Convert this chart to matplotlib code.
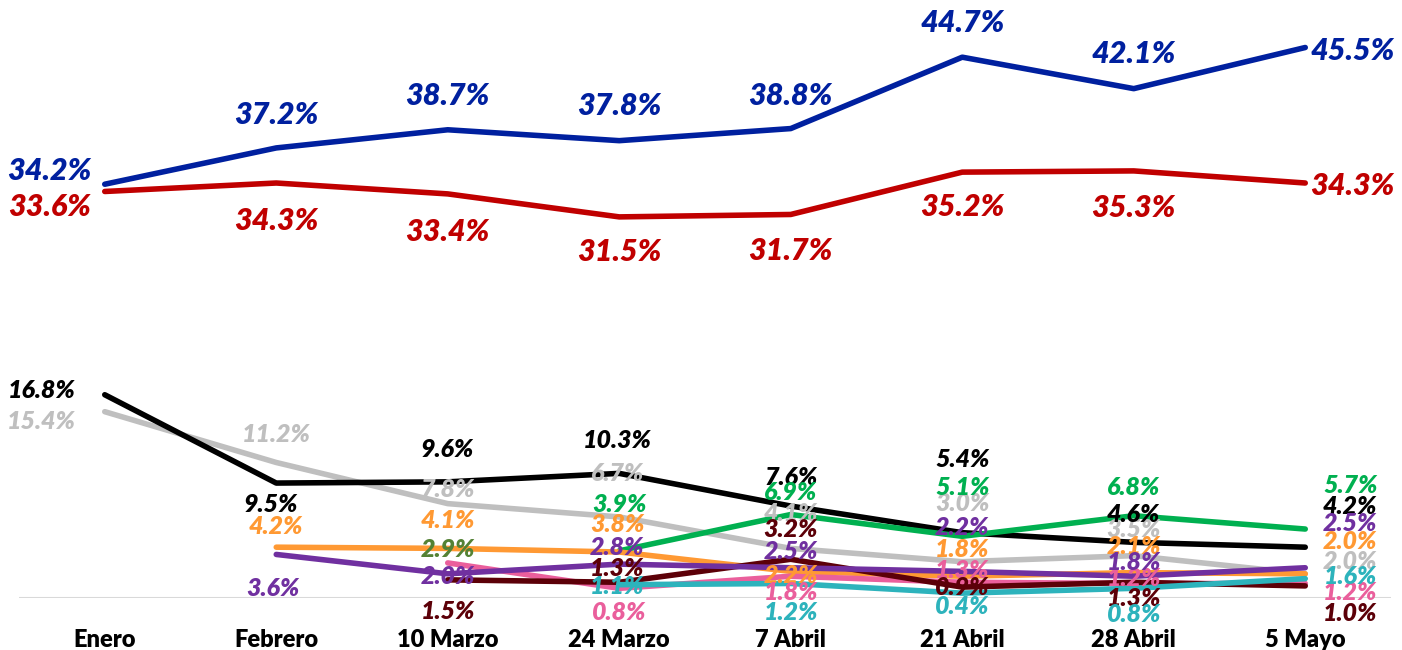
import numpy as np
import matplotlib
matplotlib.use("Agg")
from matplotlib import pyplot as plt

plt.rcParams['font.family'] = ['Lato', 'DejaVu Sans']

# categories
fechas = ["Enero", "Febrero", "10 Marzo", "24 Marzo", "7 Abril",
          "21 Abril", "28 Abril", "5 Mayo"]

# series values (None = no data)
azul = [34.2, 37.2, 38.7, 37.8, 38.8, 44.7, 42.1, 45.5]
rojo = [33.6, 34.3, 33.4, 31.5, 31.7, 35.2, 35.3, 34.3]
negro = [16.8, 9.5, 9.6, 10.3, 7.6, 5.4, 4.6, 4.2]
gris = [15.4, 11.2, 7.8, 6.7, 4.1, 3.0, 3.5, 2.0]
naranja = [None, 4.2, 4.1, 3.8, 2.2, 1.8, 2.1, 2.0]
morado = [None, 3.6, 2.0, 2.8, 2.5, 2.2, 1.8, 2.5]
verde = [None, None, None, 3.9, 6.9, 5.1, 6.8, 5.7]
rosa = [None, None, 2.9, 0.8, 1.8, 1.3, 1.2, 1.2]
guinda = [None, None, 1.5, 1.3, 3.2, 0.9, 1.3, 1.0]
turquesa = [None, None, None, 1.1, 1.2, 0.4, 0.8, 1.6]

# label offsets in pixels (dx, dy up), one per point
off_azul = [(-55, 13), (0, 33), (0, 34), (0, 35), (0, 33), (0, 34), (0, 35), (47, -3)]
off_rojo = [(-55, -16), (0, -38), (0, -38), (0, -35), (0, -37), (0, -35), (0, -37), (47, -3)]
off_negro = [(-63, 4), (-5, -21), (0, 32), (-2, 33), (0, 29), (0, 73), (0, 28), (45, 41)]
off_gris = [(-63, -10), (0, 28), (0, 14), (-2, 43), (0, 35), (0, 58), (0, 26), (45, 12)]
off_naranja = [None, (0, 21), (0, 28), (-2, 28), (0, -4), (0, 27), (0, 26), (45, 32)]
off_morado = [None, (-3, -34), (0, -3), (-2, 17), (0, 16), (0, 44), (0, 14), (45, 44)]
off_verde = [None, None, None, (0, 46), (0, 22), (0, 49), (0, 28), (45, 44)]
off_rosa = [None, None, (0, 13), (0, -24), (0, -16), (0, 12), (0, 5), (45, -9)]
off_guinda = [None, None, (0, -32), (-2, 14), (0, 30), (0, 0), (0, -16), (45, -28)]
off_turquesa = [None, None, None, (-2, -2), (0, -29), (0, -13), (0, -26), (45, 2)]

series = [
    # values, colour, offsets, font size, zorder
    (gris, '#BFBFBF', off_gris, 18, 2),
    (negro, '#000000', off_negro, 18, 3),
    (naranja, '#FF9933', off_naranja, 18, 4),
    (verde, '#00B050', off_verde, 18, 3),
    (rosa, '#EA5F9C', off_rosa, 18, 4),
    (guinda, '#5C0008', off_guinda, 18, 5),
    (morado, '#7030A0', off_morado, 18, 5),
    (turquesa, '#2DB3BC', off_turquesa, 18, 6),
    (rojo, '#C00000', off_rojo, 22, 7),
    (azul, '#00209F', off_azul, 22, 8),
]
# label colour exceptions (series colour, point index) -> colour
label_color_fix = {('#EA5F9C', 2): '#548235'}

fig = plt.figure(figsize=(14.02, 6.5), dpi=100)
ax = fig.add_axes([19 / 1402, 52 / 650, 1372 / 1402, 588 / 650])
x = np.arange(len(fechas))

for vals, col, offs, fs, z in series:
    xs = [i for i, v in enumerate(vals) if v is not None]
    ys = [vals[i] for i in xs]
    ax.plot(xs, ys, color=col, lw=4, solid_capstyle='round', zorder=z)
    for i in xs:
        dx, dy = offs[i]
        c = label_color_fix.get((col, i), col)
        ax.annotate(f"{vals[i]:.1f}%", (i, vals[i]), xytext=(dx, dy),
                    textcoords='offset pixels', ha='center', va='center',
                    color=c, fontsize=fs, fontweight='heavy', fontstyle='italic',
                    zorder=20)

ax.set_xlim(-0.5, len(fechas) - 0.5)
ax.set_ylim(0, 48.6)
ax.axhline(0, color='#D9D9D9', lw=1.5, zorder=1)
ax.set_xticks(x)
ax.set_xticklabels(fechas, fontsize=17, fontweight='heavy')
ax.tick_params(axis='x', length=0, pad=22)
ax.set_yticks([])
for s in ax.spines.values():
    s.set_visible(False)

fig.savefig("out.png", dpi=100)
